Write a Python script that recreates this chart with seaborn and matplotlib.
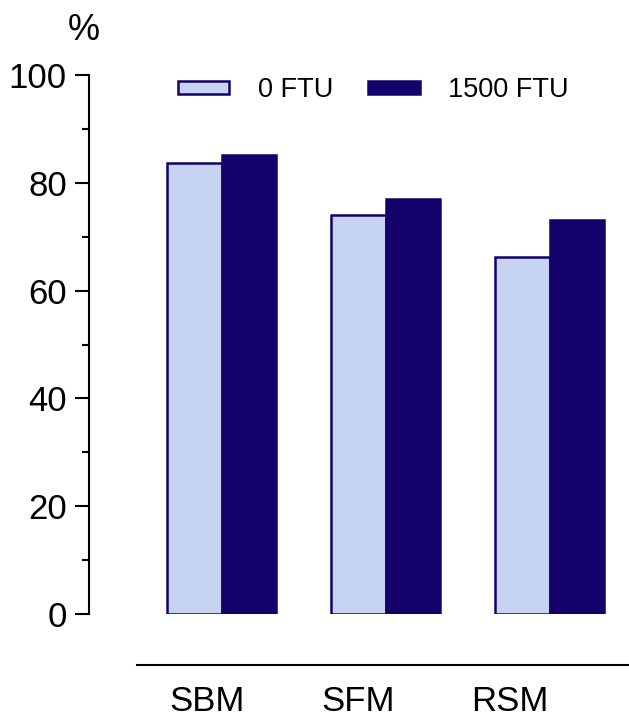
import matplotlib
matplotlib.use("Agg")
import matplotlib.pyplot as plt
import seaborn as sns
import pandas as pd
from matplotlib.ticker import MultipleLocator

categories = ["SBM", "SFM", "RSM"]
groups = ["0 FTU", "1500 FTU"]
values_0 = [83.7, 74.0, 66.2]
values_1500 = [85.2, 77.0, 73.1]

df = pd.DataFrame({
    "cat": categories * 2,
    "grp": [groups[0]] * 3 + [groups[1]] * 3,
    "val": values_0 + values_1500,
})

sns.set_style("ticks")
plt.rcParams["font.family"] = ["Liberation Sans", "DejaVu Sans"]
for k in ["text.color", "axes.labelcolor", "xtick.color", "ytick.color", "axes.edgecolor"]:
    plt.rcParams[k] = "black"

light = "#C6D4F2"
dark = "#14006A"

fig = plt.figure(figsize=(6.29, 7.21), dpi=100)
ax = fig.add_axes([89/629, 1-614/721, 1-89/629, (614-75)/721])

sns.barplot(data=df, x="cat", y="val", hue="grp", order=categories,
            hue_order=groups, palette=[light, dark], width=0.665, saturation=1,
            edgecolor=dark, linewidth=1.8, ax=ax, errorbar=None)

sp = 164.0
ax.set_ylim(0, 100)
ax.set_xlim(-(221.5-89)/sp, 2 + (629-549.5)/sp)
ax.yaxis.set_major_locator(MultipleLocator(20))
ax.yaxis.set_minor_locator(MultipleLocator(10))
ax.tick_params(axis="y", which="major", length=10, width=1.5, labelsize=25, pad=6)
ax.tick_params(axis="y", which="minor", length=5, width=1.5)
# category labels sit on a separate, offset axis line (GraphPad style)
label_px = [207.5, 358.0, 510.0]
ax.set_xticks([(p - 221.5) / sp for p in label_px])
ax.set_xticklabels(categories)
ax.tick_params(axis="x", length=0, labelsize=25, pad=14.5)
ax.set_xlabel("")
ax.set_ylabel("")

for s in ["top", "right"]:
    ax.spines[s].set_visible(False)
ax.spines["left"].set_linewidth(1.5)
ax.spines["bottom"].set_linewidth(1.5)
ax.spines["bottom"].set_position(("outward", 36.7))
ax.spines["bottom"].set_bounds(-(221.5-137)/sp, 2 + (629-549.5)/sp)

handles, labels = ax.get_legend_handles_labels()
ax.legend(handles, labels, ncol=2, frameon=False, loc="center left",
          bbox_to_anchor=(178/629, 1-90/721), bbox_transform=fig.transFigure,
          borderpad=0, borderaxespad=0, handlelength=1.9, handleheight=0.37,
          handletextpad=1.05, columnspacing=1.3, fontsize=19.5)

fig.text(84/629, 1-40/721, "%", ha="center", va="baseline", fontsize=26)

fig.savefig("out.png", dpi=100)
